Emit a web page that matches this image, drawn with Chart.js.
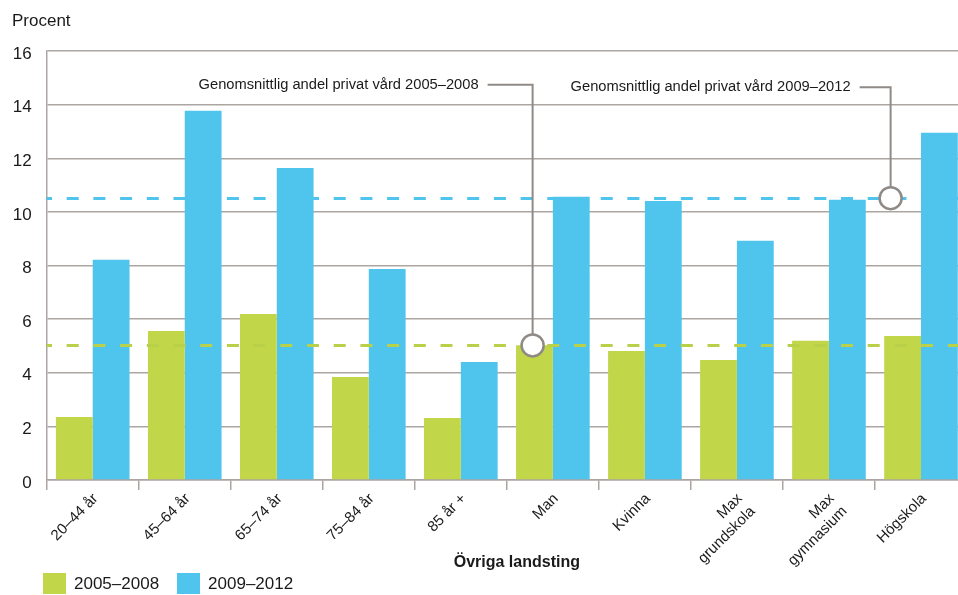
<!DOCTYPE html>
<html>
<head>
<meta charset="utf-8">
<script src="https://cdn.jsdelivr.net/npm/chart.js@4/dist/chart.umd.min.js"></script>
<style>
  html, body { margin: 0; padding: 0; background: #fff; overflow: hidden; }
  #wrap { position: relative; width: 968px; height: 595px; }
  #legend {
    position: absolute; left: 43px; top: 573px;
    display: flex; font: 17px 'Liberation Sans', Arial, sans-serif; color: #1a1a1a;
  }
  #legend .item { display: flex; align-items: center; height: 21px; margin-right: 18px; }
  #legend .box { width: 23px; height: 21px; margin-right: 8px; }
</style>
</head>
<body>
<div id="wrap">
  <canvas id="chart"></canvas>
  <div id="legend"></div>
</div>
<script>
  // Andel privat vård per grupp, övriga landsting (procent)
  const categories = [
    ['20–44 år'], ['45–64 år'], ['65–74 år'], ['75–84 år'], ['85 år +'],
    ['Man'], ['Kvinna'], ['Max', 'grundskola'], ['Max', 'gymnasium'], ['Högskola']
  ];
  const seriesNames = ['2005–2008', '2009–2012'];
  const values2005 = [2.35, 5.56, 6.19, 3.84, 2.31, 5.03, 4.81, 4.48, 5.19, 5.37];
  const values2009 = [8.21, 13.77, 11.64, 7.87, 4.40, 10.56, 10.41, 8.92, 10.45, 12.95];
  const averages = [5.02, 10.51];
  const calloutTexts = [
    'Genomsnittlig andel privat vård 2005–2008',
    'Genomsnittlig andel privat vård 2009–2012'
  ];
  const yTicks = [0, 2, 4, 6, 8, 10, 12, 14, 16];

  const FONT = "'Liberation Sans', Arial, sans-serif";
  const TEXT = '#1a1a1a';
  const GRID = '#aba6a1';
  const GREEN = '#c2d64a';
  const BLUE = '#4fc4ed';
  const seriesColors = [GREEN, BLUE];
  const dashColors = ['#b9d148', '#4fc4ed'];

  // Dashed average lines, callouts and the two loose labels
  const overlay = {
    id: 'overlay',
    afterDatasetsDraw(chart) {
      const { ctx, chartArea, scales: { x, y } } = chart;
      ctx.save();

      ctx.lineWidth = 3;
      ctx.setLineDash([12, 14.7]);
      ctx.lineDashOffset = 6.7;
      averages.forEach((v, i) => {
        const py = Math.round(y.getPixelForValue(v)) + 0.5;
        ctx.strokeStyle = dashColors[i];
        ctx.beginPath();
        ctx.moveTo(chartArea.left, py);
        ctx.lineTo(chartArea.right, py);
        ctx.stroke();
      });
      ctx.setLineDash([]);

      // circle on the average line, leader up and left to the text
      const spots = [
        { at: 4.78, top: 14.74, reach: 45 },
        { at: 8.67, top: 14.65, reach: 31 }
      ];
      spots.forEach((s, i) => {
        const cx = x.getPixelForValue(s.at);
        const cy = y.getPixelForValue(averages[i]);
        const ty = y.getPixelForValue(s.top);
        ctx.strokeStyle = '#8f8a86';
        ctx.lineWidth = 2;
        ctx.beginPath();
        ctx.moveTo(cx, cy - 11);
        ctx.lineTo(cx, ty);
        ctx.lineTo(cx - s.reach, ty);
        ctx.stroke();

        ctx.lineWidth = 2.5;
        ctx.fillStyle = '#fff';
        ctx.beginPath();
        ctx.arc(cx, cy, 11, 0, Math.PI * 2);
        ctx.fill();
        ctx.stroke();

        ctx.fillStyle = TEXT;
        ctx.font = '14.7px ' + FONT;
        ctx.textAlign = 'right';
        ctx.textBaseline = 'middle';
        ctx.fillText(calloutTexts[i], cx - s.reach - 9, ty);
      });

      ctx.fillStyle = TEXT;
      ctx.textAlign = 'left';
      ctx.textBaseline = 'middle';
      ctx.font = '17px ' + FONT;
      ctx.fillText('Procent', 12, 21);

      ctx.textAlign = 'center';
      ctx.font = 'bold 16px ' + FONT;
      ctx.fillText('Övriga landsting', (chartArea.left + chartArea.right) / 2 + 10, 563);

      ctx.restore();
    }
  };

  new Chart(document.getElementById('chart'), {
    type: 'bar',
    data: {
      labels: categories,
      datasets: [
        { label: seriesNames[0], data: values2005, backgroundColor: GREEN, borderWidth: 0 },
        { label: seriesNames[1], data: values2009, backgroundColor: BLUE, borderWidth: 0 }
      ]
    },
    options: {
      responsive: true,
      maintainAspectRatio: false,
      animation: false,
      layout: { padding: { left: 12, right: 1, top: 51, bottom: 0 } },
      datasets: { bar: { categoryPercentage: 0.8, barPercentage: 1.0 } },
      scales: {
        x: {
          afterFit: scale => { scale.height = 115; },
          grid: { drawOnChartArea: false, drawTicks: true, tickLength: 10, color: GRID, lineWidth: 1.5 },
          border: { color: GRID, width: 1.5 },
          ticks: {
            color: TEXT,
            font: { family: FONT, size: 15 },
            minRotation: 45,
            maxRotation: 45,
            autoSkip: false,
            padding: 0,
            labelOffset: 3
          }
        },
        y: {
          min: 0,
          max: 16,
          afterFit: scale => { scale.width = 34.7; },
          afterBuildTicks: scale => { scale.ticks = yTicks.map(v => ({ value: v })); },
          grid: { color: GRID, lineWidth: 1.5, drawTicks: false },
          border: { color: GRID, width: 1.5 },
          ticks: {
            color: TEXT,
            font: { family: FONT, size: 17 },
            crossAlign: 'near',
            padding: 15,
            labelOffset: 3
          }
        }
      },
      plugins: {
        tooltip: { enabled: false },
        legend: { display: false }
      }
    },
    plugins: [overlay]
  });

  // Legend below the axis title
  const legendEl = document.getElementById('legend');
  seriesNames.forEach((name, i) => {
    const item = document.createElement('span');
    item.className = 'item';
    const box = document.createElement('span');
    box.className = 'box';
    box.style.background = seriesColors[i];
    item.appendChild(box);
    item.appendChild(document.createTextNode(name));
    legendEl.appendChild(item);
  });
</script>
</body>
</html>
